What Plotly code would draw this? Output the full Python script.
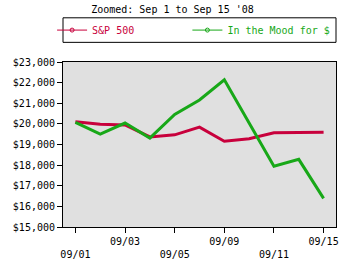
import plotly.graph_objects as go

dates = ["09/01", "09/02", "09/03", "09/04", "09/05", "09/08",
         "09/09", "09/10", "09/11", "09/12", "09/15"]
sp500 = [20100, 19980, 19950, 19370, 19470, 19840, 19160, 19280, 19570, 19600, 19600]
mood = [20070, 19500, 20040, 19310, 20460, 21160, 22140, 20050, 17950, 18280, 16390]
tick_dates = ["09/01", "09/03", "09/05", "09/09", "09/11", "09/15"]
tick_text = ["<br>09/01", "09/03", "<br>09/05", "09/09", "<br>09/11", "09/15"]

red = "#c8003c"
green = "#18a818"
font = "DejaVu Sans Mono"

fig = go.Figure()
fig.add_trace(go.Scatter(x=dates, y=sp500, mode="lines", line=dict(color=red, width=3),
                         showlegend=False))
fig.add_trace(go.Scatter(x=dates, y=mood, mode="lines", line=dict(color=green, width=3),
                         showlegend=False))
# legend entries
pad = "\u00a0" * 8
fig.add_trace(go.Scatter(x=[None], y=[None], mode="lines+markers",
                         line=dict(color=red, width=1),
                         marker=dict(symbol="circle-open", size=4, color=red),
                         name=f"<span style='color:{red}'>S&P 500{pad}</span>"))
fig.add_trace(go.Scatter(x=[None], y=[None], mode="lines+markers",
                         line=dict(color=green, width=1),
                         marker=dict(symbol="circle-open", size=4, color=green),
                         name=f"<span style='color:{green}'>In the Mood for $</span>"))

ph = 272 - 62 - 42
fig.add_shape(type="rect", xref="paper", yref="paper", x0=0, x1=1,
              y0=1 + 20 / ph, y1=1 + 45 / ph, line=dict(color="black", width=1),
              fillcolor="rgba(0,0,0,0)")

fig.update_layout(
    width=352, height=272,
    margin=dict(l=63, r=16, t=62, b=42),
    paper_bgcolor="white", plot_bgcolor="#e0e0e0",
    font=dict(family=font, size=10, color="black"),
    title=dict(text="Zoomed: Sep 1 to Sep 15 '08", x=0.49, xanchor="center",
               y=0.965, yanchor="middle", font=dict(family=font, size=10)),
    legend=dict(orientation="h", x=-0.04, xanchor="left", y=1 + 32.5 / ph, yanchor="middle",
                borderwidth=0, bgcolor="rgba(0,0,0,0)",
                font=dict(family=font, size=10)),
    xaxis=dict(type="category", categoryorder="array", categoryarray=dates,
               range=[-0.5, 10.5], tickmode="array", tickvals=tick_dates, ticktext=tick_text,
               ticks="outside", ticklen=5, tickcolor="black", showgrid=False,
               showline=True, linecolor="black", mirror=True, zeroline=False),
    yaxis=dict(range=[15000, 23000], dtick=1000, tickprefix="$", tickformat=",",
               ticks="outside", ticklen=5, tickcolor="black", showgrid=False,
               showline=True, linecolor="black", mirror=True, zeroline=False),
)

fig.write_html("out.html")
